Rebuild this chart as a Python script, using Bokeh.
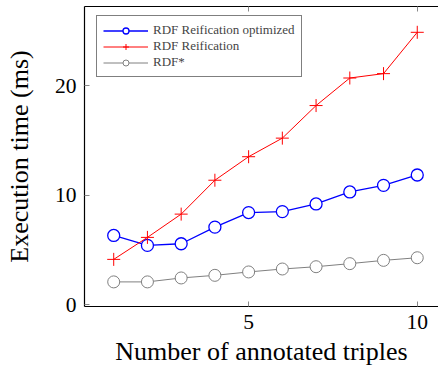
from bokeh.plotting import figure
from bokeh.models import FixedTicker, LinearAxis, Range1d, Legend
from bokeh.embed import file_html
from bokeh.resources import INLINE

triples = [1, 2, 3, 4, 5, 6, 7, 8, 9, 10]
reif_opt = [6.32, 5.41, 5.56, 7.08, 8.41, 8.50, 9.20, 10.30, 10.90, 11.85]
reif = [4.13, 6.14, 8.27, 11.37, 13.52, 15.22, 18.20, 20.72, 21.12, 24.90]
rdf_star = [2.07, 2.07, 2.43, 2.67, 2.98, 3.25, 3.46, 3.74, 4.04, 4.28]
x_ticks = [5, 10]
y_ticks = [0, 10, 20]

FONT = "Liberation Serif"

p = figure(width=438, height=368, output_backend="svg", toolbar_location=None,
           x_range=Range1d(0.134, 10.63), y_range=Range1d(-0.18, 27.26),
           min_border_left=84, min_border_right=0, min_border_top=6, min_border_bottom=61,
           x_axis_label="Number of annotated triples", y_axis_label="Execution time (ms)")
p.outline_line_color = None
p.grid.visible = False

for ax in (p.xaxis[0], p.yaxis[0]):
    ax.axis_line_color = "black"
    ax.axis_line_width = 1.2
    ax.major_tick_in = 5
    ax.major_tick_out = 0
    ax.major_tick_line_color = "#888888"
    ax.minor_tick_line_color = None
    ax.major_label_text_font = FONT
    ax.major_label_text_font_size = "21.5px"
    ax.major_label_text_color = "black"
    ax.axis_label_text_font = FONT
    ax.axis_label_text_font_size = "26px"
    ax.axis_label_text_font_style = "normal"
    ax.axis_label_text_color = "black"

p.xaxis[0].ticker = FixedTicker(ticks=x_ticks)
p.yaxis[0].ticker = FixedTicker(ticks=y_ticks)
p.xaxis[0].major_label_standoff = 8
p.yaxis[0].major_label_standoff = 8
p.yaxis[0].axis_label_standoff = 18
p.xaxis[0].axis_label_standoff = 5

top = LinearAxis(ticker=FixedTicker(ticks=x_ticks), major_label_text_font_size="1px",
                 major_label_text_color=None, major_label_standoff=0,
                 major_tick_in=5, major_tick_out=0,
                 major_tick_line_color="#888888", minor_tick_line_color=None,
                 axis_line_color="black", axis_line_width=1.2)
p.add_layout(top, "above")

r1l = p.line(triples, reif_opt, line_color="blue", line_width=1.3)
r1m = p.scatter(triples, reif_opt, marker="circle", size=12, line_color="blue",
                fill_color="white", line_width=1.3)
r2l = p.line(triples, reif, line_color="red", line_width=1.0)
r2m = p.scatter(triples, reif, marker="cross", size=13, line_color="red", line_width=1.0)
r3l = p.line(triples, rdf_star, line_color="gray", line_width=1.0)
r3m = p.scatter(triples, rdf_star, marker="circle", size=12, line_color="gray",
                fill_color="white", line_width=1.0)

legend = Legend(items=[("RDF Reification optimized", [r1l, r1m]),
                       ("RDF Reification", [r2l, r2m]),
                       ("RDF*", [r3l, r3m])],
                location=(12, 229))
legend.label_text_font = FONT
legend.label_text_font_size = "13px"
legend.glyph_width = 45
legend.glyph_height = 15
legend.label_height = 15
legend.label_standoff = 5
legend.spacing = 0
legend.padding = 6
legend.margin = 0
legend.border_line_color = "black"
legend.border_line_width = 1.3
legend.background_fill_alpha = 1
p.add_layout(legend)

open("out.html", "w").write(file_html(p, INLINE))
